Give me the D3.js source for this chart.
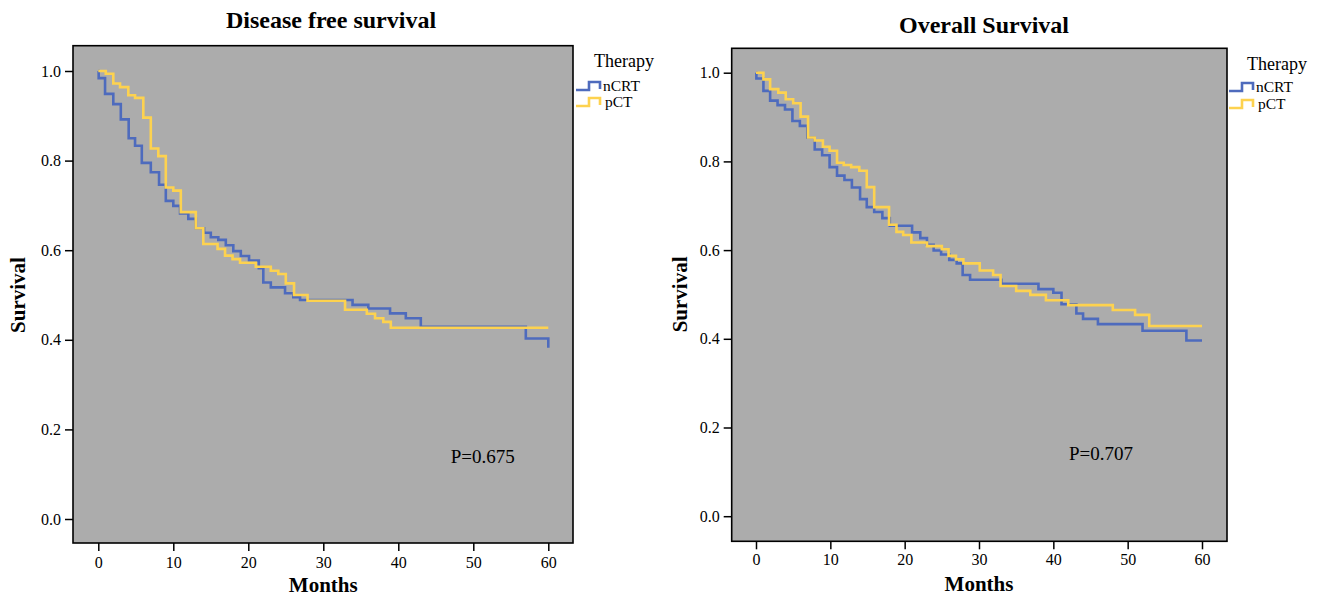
<!DOCTYPE html>
<html>
<head>
<meta charset="utf-8">
<script src="https://cdn.jsdelivr.net/npm/d3@7"></script>
<style>
  html, body { margin: 0; padding: 0; background: #ffffff; }
  svg { display: block; }
  text { font-family: "Liberation Serif", "Times New Roman", serif; fill: #000; }
</style>
</head>
<body>
<svg id="chart" width="1318" height="598"></svg>
<script>
// ---- Data ----
const xTicks = [0, 10, 20, 30, 40, 50, 60];
const yTicks = [0.0, 0.2, 0.4, 0.6, 0.8, 1.0];
const seriesNames = ["nCRT", "pCT"];
const legendTitle = "Therapy";

// Disease free survival
const dfsTimeNCRT = [0, 0.05, 0.9, 2.0, 3.0, 4.05, 4.9, 5.8, 7.0, 8.1, 9.0, 10.0, 10.9, 12.0, 13.0, 14.1, 15.0, 16.0, 17.0, 18.0, 19.0, 20.1, 21.4, 22.0, 23.0, 24.9, 26.0, 26.9, 33.9, 36.0, 38.9, 41.0, 43.0, 57.0, 60.0];
const dfsSurvNCRT = [1.0, 0.984, 0.949, 0.926, 0.892, 0.850, 0.833, 0.795, 0.774, 0.746, 0.710, 0.699, 0.682, 0.670, 0.649, 0.639, 0.629, 0.623, 0.611, 0.598, 0.587, 0.577, 0.560, 0.528, 0.517, 0.504, 0.495, 0.489, 0.478, 0.470, 0.459, 0.448, 0.429, 0.403, 0.382];
const dfsTimePCT = [0, 1.0, 2.0, 2.9, 4.0, 4.9, 6.0, 7.0, 8.0, 9.0, 10.0, 11.0, 13.0, 14.0, 15.9, 16.9, 17.9, 18.9, 21.0, 23.0, 24.0, 25.0, 26.1, 27.9, 32.9, 35.8, 36.9, 38.0, 39.0, 60.0];
const dfsSurvPCT = [1.0, 0.994, 0.972, 0.964, 0.946, 0.940, 0.896, 0.827, 0.810, 0.740, 0.733, 0.685, 0.649, 0.614, 0.603, 0.588, 0.580, 0.572, 0.563, 0.554, 0.547, 0.526, 0.500, 0.487, 0.467, 0.458, 0.448, 0.440, 0.427, 0.427];

// Overall survival
const osTimeNCRT = [0, 0.05, 1.0, 1.9, 2.9, 3.9, 4.9, 5.9, 6.9, 7.9, 8.9, 9.9, 10.9, 11.9, 12.9, 14.0, 14.9, 15.9, 17.0, 18.0, 21.0, 22.1, 23.0, 23.9, 24.9, 26.0, 27.0, 27.8, 28.8, 33.0, 38.0, 40.0, 41.1, 43.1, 44.0, 46.0, 52.0, 57.9, 60.0];
const osSurvNCRT = [1.0, 0.987, 0.959, 0.937, 0.927, 0.917, 0.891, 0.880, 0.854, 0.827, 0.814, 0.787, 0.768, 0.758, 0.741, 0.715, 0.697, 0.686, 0.672, 0.655, 0.640, 0.627, 0.612, 0.599, 0.590, 0.578, 0.570, 0.544, 0.533, 0.524, 0.512, 0.504, 0.478, 0.457, 0.445, 0.433, 0.418, 0.396, 0.396];
const osTimePCT = [0, 1.0, 1.9, 3.0, 4.0, 5.0, 6.0, 7.0, 7.9, 9.0, 9.9, 10.9, 11.8, 12.8, 13.9, 14.9, 15.9, 17.9, 18.9, 19.8, 20.9, 23.0, 25.0, 25.9, 26.9, 27.9, 30.1, 31.9, 32.9, 35.0, 36.9, 39.0, 42.0, 48.0, 51.0, 52.9, 60.0];
const osSurvPCT = [1.0, 0.985, 0.963, 0.955, 0.940, 0.931, 0.901, 0.854, 0.847, 0.833, 0.824, 0.797, 0.792, 0.787, 0.779, 0.742, 0.697, 0.657, 0.641, 0.634, 0.617, 0.609, 0.602, 0.587, 0.579, 0.570, 0.554, 0.544, 0.519, 0.508, 0.499, 0.487, 0.476, 0.465, 0.454, 0.429, 0.429];

const colors = { nCRT: "#4e6bbd", pCT: "#fdd24f" };

const panels = [
  {
    title: "Disease free survival", pText: "P=0.675", pT: 47, pS: 0.125,
    box: { x0: 73, x1: 573, y0: 45.7, y1: 543 },
    x0px: 98.3, x60px: 548.3, y1px: 71, y0px: 519,
    titleX: 331, titleY: 28, monthsY: 592, survX: 25, tickLabY: 568,
    legend: { x: 576, titleX: 624, titleY: 67, rowY: [90, 106] },
    series: [
      { name: "nCRT", t: dfsTimeNCRT, s: dfsSurvNCRT },
      { name: "pCT", t: dfsTimePCT, s: dfsSurvPCT }
    ]
  },
  {
    title: "Overall Survival", pText: "P=0.707", pT: 42.1, pS: 0.127,
    box: { x0: 731.7, x1: 1227, y0: 48.3, y1: 541.3 },
    x0px: 756, x60px: 1202, y1px: 72.7, y0px: 516.2,
    titleX: 984, titleY: 33, monthsY: 591, survX: 687, tickLabY: 565,
    legend: { x: 1229, titleX: 1277, titleY: 70, rowY: [91, 108] },
    series: [
      { name: "nCRT", t: osTimeNCRT, s: osSurvNCRT },
      { name: "pCT", t: osTimePCT, s: osSurvPCT }
    ]
  }
];

const svg = d3.select("#chart");

panels.forEach(p => {
  const x = d3.scaleLinear().domain([0, 60]).range([p.x0px, p.x60px]);
  const y = d3.scaleLinear().domain([0, 1]).range([p.y0px, p.y1px]);
  const g = svg.append("g");

  // plot background
  g.append("rect")
    .attr("x", p.box.x0).attr("y", p.box.y0)
    .attr("width", p.box.x1 - p.box.x0).attr("height", p.box.y1 - p.box.y0)
    .attr("fill", "#acacac");

  // curves
  const line = d3.line().x(d => x(d[0])).y(d => y(d[1])).curve(d3.curveStepAfter);
  p.series.forEach(se => {
    const pts = se.t.map((t, i) => [t, se.s[i]]);
    g.append("path")
      .attr("d", line(pts))
      .attr("fill", "none")
      .attr("stroke", colors[se.name])
      .attr("stroke-width", 2.6)
      .attr("stroke-linejoin", "miter");
  });

  // box frame
  g.append("rect")
    .attr("x", p.box.x0).attr("y", p.box.y0)
    .attr("width", p.box.x1 - p.box.x0).attr("height", p.box.y1 - p.box.y0)
    .attr("fill", "none").attr("stroke", "#000").attr("stroke-width", 1.6);

  // x axis
  const xAxis = d3.axisBottom(x).tickValues(xTicks).tickFormat(d3.format("d")).tickSize(8).tickSizeOuter(0);
  const gx = g.append("g").attr("transform", `translate(0,${p.box.y1})`).call(xAxis);
  gx.select(".domain").remove();
  gx.selectAll(".tick line").attr("stroke", "#000").attr("stroke-width", 1.5);
  gx.selectAll(".tick text").attr("font-size", 16).attr("font-family", "Liberation Serif").attr("fill", "#000")
    .attr("dy", null).attr("y", p.tickLabY - p.box.y1);

  // y axis
  const yAxis = d3.axisLeft(y).tickValues(yTicks).tickFormat(d3.format(".1f")).tickSize(8).tickSizeOuter(0);
  const gy = g.append("g").attr("transform", `translate(${p.box.x0},0)`).call(yAxis);
  gy.select(".domain").remove();
  gy.selectAll(".tick line").attr("stroke", "#000").attr("stroke-width", 1.5);
  gy.selectAll(".tick text").attr("font-size", 16).attr("font-family", "Liberation Serif").attr("fill", "#000")
    .attr("x", -12);

  // titles
  g.append("text").attr("x", p.titleX).attr("y", p.titleY)
    .attr("text-anchor", "middle").attr("font-size", 24).attr("font-weight", "bold").text(p.title);
  g.append("text").attr("x", x(30)).attr("y", p.monthsY)
    .attr("text-anchor", "middle").attr("font-size", 21).attr("font-weight", "bold").text("Months");
  g.append("text").attr("transform", `translate(${p.survX},${y(0.5)}) rotate(-90)`)
    .attr("text-anchor", "middle").attr("font-size", 21).attr("font-weight", "bold").text("Survival");

  // p-value
  g.append("text").attr("x", x(p.pT)).attr("y", y(p.pS)).attr("font-size", 19).text(p.pText);

  // legend
  const L = p.legend;
  g.append("text").attr("x", L.titleX).attr("y", L.titleY).attr("text-anchor", "middle")
    .attr("font-size", 18).text(legendTitle);
  seriesNames.forEach((nm, i) => {
    const by = L.rowY[i];
    const lo = by, hi = by - 8;
    g.append("path")
      .attr("d", `M${L.x},${lo}H${L.x + 13}V${hi}H${L.x + 24}V${lo - 1}`)
      .attr("fill", "none").attr("stroke", colors[nm]).attr("stroke-width", 2.6);
    g.append("text").attr("x", L.x + 27 + (i === 1 ? 2 : 0)).attr("y", by + 0.5)
      .attr("font-size", 15.5).text(nm);
  });
});
</script>
</body>
</html>
